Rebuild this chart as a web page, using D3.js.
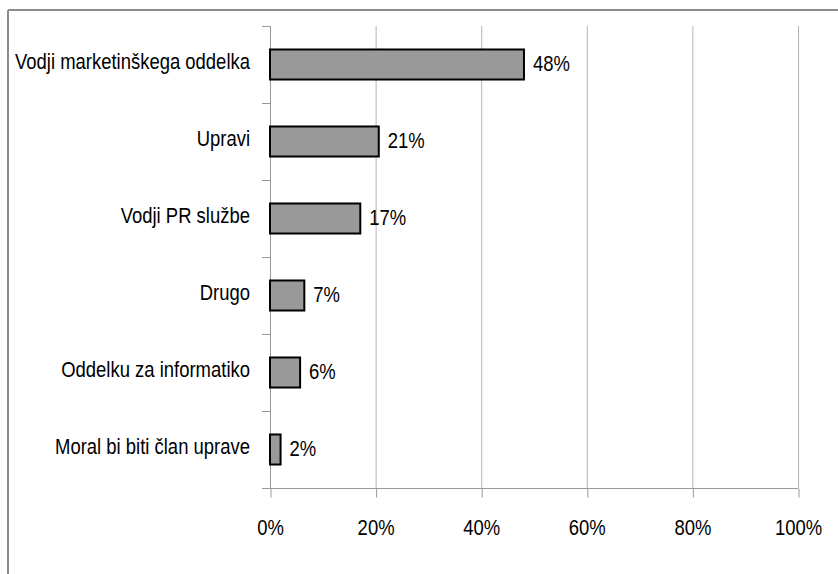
<!DOCTYPE html>
<html>
<head>
<meta charset="utf-8">
<script src="https://cdn.jsdelivr.net/npm/d3@7"></script>
<style>
  body { margin: 0; background: #fff; }
  text { font-family: "Liberation Sans", Arial, sans-serif; font-size: 22px; fill: #000; }
</style>
</head>
<body>
<script>
// data
var categories = ["Vodji marketinškega oddelka", "Upravi", "Vodji PR službe", "Drugo", "Oddelku za informatiko", "Moral bi biti član uprave"];
var shares = [48.1, 20.6, 17.1, 6.5, 5.7, 2.0];
var shareLabels = ["48%", "21%", "17%", "7%", "6%", "2%"];
var tickValues = [0, 20, 40, 60, 80, 100];

var width = 838, height = 574;
var squeeze = 0.84; // text in the original is horizontally narrow

var svg = d3.select("body").append("svg")
    .attr("width", width)
    .attr("height", height);

// outer frame (only left and top visible)
svg.append("line").attr("x1", 8).attr("x2", 8).attr("y1", 10).attr("y2", height)
    .attr("stroke", "#8c8c8c").attr("stroke-width", 2);
svg.append("line").attr("x1", 8).attr("x2", width).attr("y1", 10).attr("y2", 10)
    .attr("stroke", "#8c8c8c").attr("stroke-width", 2);

var x = d3.scaleLinear().domain([0, 100]).range([270, 798]);
var y = d3.scaleBand().domain(categories).range([26, 488])
    .paddingInner(0.61).paddingOuter(0.305);
var step = y.step();

// vertical gridlines
svg.append("g")
    .selectAll("line")
    .data(tickValues.slice(1))
    .enter().append("line")
    .attr("x1", function (d) { return x(d) + 0.5; })
    .attr("x2", function (d) { return x(d) + 0.5; })
    .attr("y1", 26)
    .attr("y2", 488)
    .attr("stroke", "#b4b4b4")
    .attr("stroke-width", 1);

// x axis
var xAxis = svg.append("g")
    .attr("transform", "translate(0,488.5)")
    .call(d3.axisBottom(x).tickValues(tickValues).tickSize(9).tickFormat(function (d) { return d + "%"; }));
xAxis.select(".domain").remove();
xAxis.append("line").attr("x1", 262).attr("x2", 798).attr("stroke", "#9a9a9a");
xAxis.selectAll(".tick line").attr("stroke", "#9a9a9a").attr("transform", "translate(0.5,0)");
xAxis.selectAll(".tick text")
    .attr("y", 0).attr("dy", null)
    .attr("transform", "translate(0,46) scale(" + squeeze + ",1)")
    .style("font-family", "'Liberation Sans', Arial, sans-serif")
    .style("font-size", "22px")
    .attr("fill", "#000");

// y axis line and category separators
var yAxis = svg.append("g");
yAxis.append("line").attr("x1", 270.5).attr("x2", 270.5).attr("y1", 26).attr("y2", 488)
    .attr("stroke", "#9a9a9a");
var bounds = categories.map(function (c) { return y(c) + y.bandwidth() / 2 - step / 2; });
bounds.push(y(categories[categories.length - 1]) + y.bandwidth() / 2 + step / 2);
yAxis.selectAll(".sep")
    .data(bounds)
    .enter().append("line")
    .attr("class", "sep")
    .attr("x1", 262).attr("x2", 270)
    .attr("y1", function (d) { return Math.round(d) + 0.5; })
    .attr("y2", function (d) { return Math.round(d) + 0.5; })
    .attr("stroke", "#9a9a9a");

// category labels
svg.append("g")
    .selectAll("text")
    .data(categories)
    .enter().append("text")
    .attr("text-anchor", "end")
    .attr("transform", function (d) {
        return "translate(250," + (y(d) + y.bandwidth() / 2 + 4) + ") scale(" + squeeze + ",1)";
    })
    .text(function (d) { return d; });

// bars
svg.append("g")
    .selectAll("rect")
    .data(shares)
    .enter().append("rect")
    .attr("x", x(0))
    .attr("y", function (d, i) { return y(categories[i]); })
    .attr("width", function (d) { return x(d) - x(0); })
    .attr("height", y.bandwidth())
    .attr("fill", "#999999")
    .attr("stroke", "#000")
    .attr("stroke-width", 2);

// value labels
svg.append("g")
    .selectAll("text")
    .data(shares)
    .enter().append("text")
    .attr("transform", function (d, i) {
        return "translate(" + (x(d) + 9) + "," + (y(categories[i]) + y.bandwidth() / 2 + 6) + ") scale(" + squeeze + ",1)";
    })
    .text(function (d, i) { return shareLabels[i]; });
</script>
</body>
</html>
